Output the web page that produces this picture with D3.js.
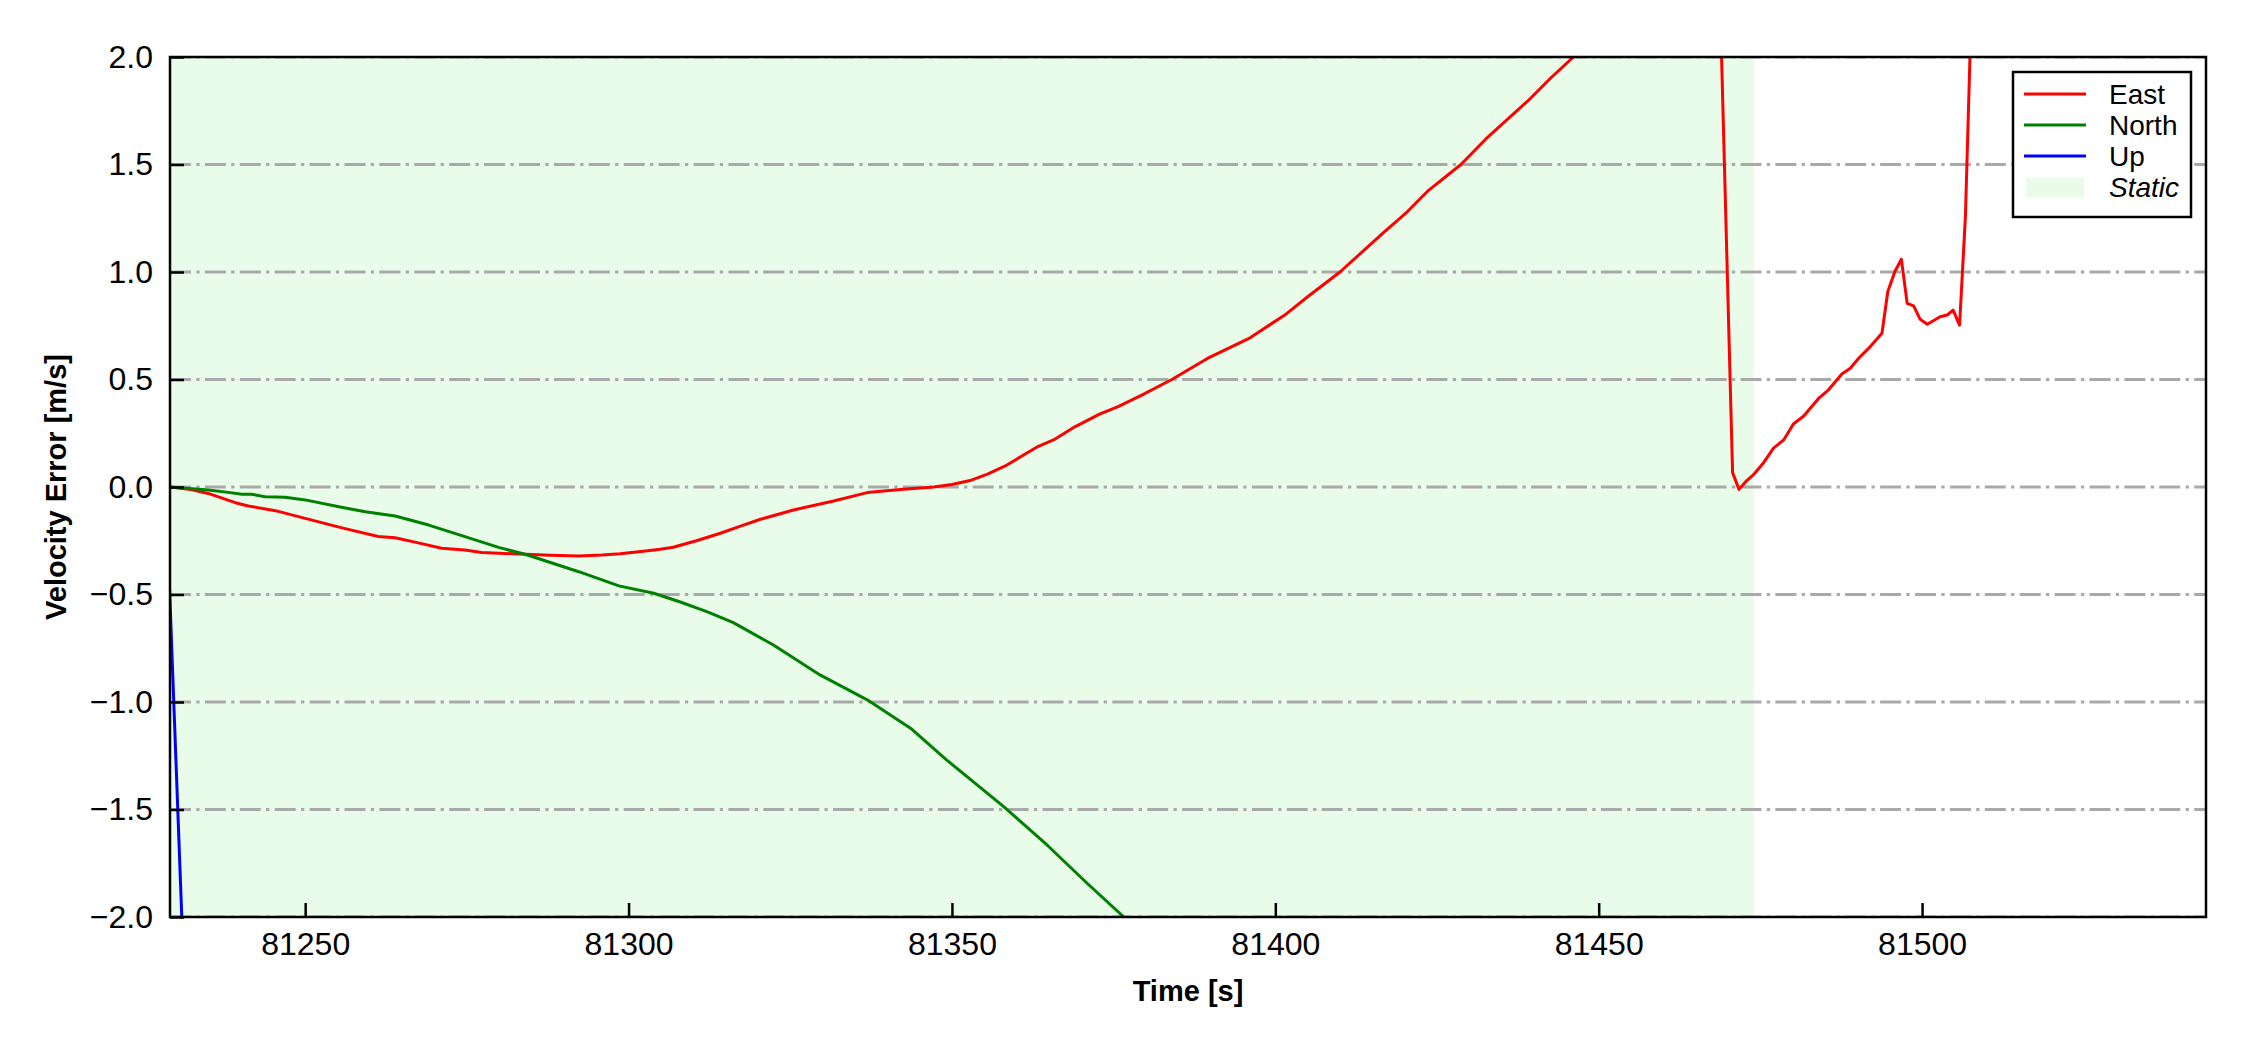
<!DOCTYPE html>
<html>
<head>
<meta charset="utf-8">
<script src="https://cdn.jsdelivr.net/npm/d3@7"></script>
<style>
  body { margin: 0; background: #fff; }
  text { font-family: "Liberation Sans", Arial, sans-serif; }
</style>
</head>
<body>
<div id="chart-container"></div>
<script>
// velocity error samples: [time s, error m/s]
const eastPoints = [
    [81229.1, 0.0], [81232, -0.01], [81235, -0.03], [81239.2, -0.073], [81241.2, -0.088],
    [81245.4, -0.11], [81250, -0.146], [81255.7, -0.19], [81261.3, -0.23], [81263.9, -0.236],
    [81267.5, -0.26], [81271.1, -0.285], [81274.7, -0.293], [81277.3, -0.305], [81284, -0.313],
    [81288, -0.318], [81292.3, -0.321], [81295.9, -0.316], [81298.7, -0.31], [81302.6, -0.298],
    [81304.9, -0.29], [81306.9, -0.28], [81310.5, -0.25], [81314.2, -0.215], [81317.3, -0.182],
    [81320.4, -0.15], [81325.5, -0.107], [81331.7, -0.065], [81336.9, -0.026], [81342.5, -0.011],
    [81347.2, 0.0], [81350, 0.012], [81352.8, 0.03], [81355.5, 0.06], [81358.5, 0.102],
    [81363.1, 0.185], [81365.7, 0.219], [81369, 0.28], [81372.9, 0.34], [81375.7, 0.374],
    [81379.5, 0.43], [81384, 0.5], [81389.5, 0.598], [81396.1, 0.694], [81401.7, 0.805],
    [81405, 0.885], [81410, 1.0], [81416.6, 1.18], [81420.4, 1.28], [81423.7, 1.38],
    [81428.7, 1.5], [81432.6, 1.62], [81439.2, 1.8], [81442.5, 1.9], [81446.1, 2.0],
    [81449, 2.17], [81455, 2.5], [81462, 2.8], [81468.7, 2.34],
    [81470.7, 0.067], [81471.7, -0.011], [81472.9, 0.03], [81473.9, 0.056], [81475.5, 0.113],
    [81477, 0.18], [81478.6, 0.219], [81480.1, 0.293], [81481.7, 0.33], [81484, 0.412],
    [81485.5, 0.451], [81487.6, 0.526], [81488.9, 0.552], [81490.2, 0.599], [81492, 0.653],
    [81493.8, 0.715], [81494.7, 0.909], [81495.8, 1.002], [81496.8, 1.059], [81497.7, 0.854],
    [81498.7, 0.842], [81499.7, 0.78], [81500.8, 0.757], [81502.8, 0.792], [81503.9, 0.8],
    [81504.8, 0.823], [81505.8, 0.753], [81506.7, 1.257], [81507.4, 1.994], [81508, 2.65]
];
const northPoints = [
    [81229.1, 0.0], [81235, -0.014], [81238.1, -0.025], [81240.2, -0.034], [81241.7, -0.034],
    [81243.8, -0.045], [81246.9, -0.048], [81250, -0.06], [81255.2, -0.092], [81259.3, -0.115],
    [81263.9, -0.135], [81269.1, -0.177], [81274.7, -0.231], [81279.9, -0.281], [81284, -0.313],
    [81292.3, -0.394], [81298.5, -0.46], [81303.9, -0.494], [81308, -0.535], [81312.1, -0.58],
    [81316.2, -0.631], [81322.4, -0.735], [81329.6, -0.874], [81336.9, -0.99], [81343.6, -1.122],
    [81349.2, -1.27], [81358, -1.487], [81364.7, -1.665], [81370.9, -1.843], [81376.5, -1.998],
    [81380, -2.14]
];
const upPoints = [
    [81229.0, -0.45], [81232.0, -2.87]
];
const staticSpan = [81229.0, 81474.0];
const xTicks = [81250, 81300, 81350, 81400, 81450, 81500];
const yTicks = [-2.0, -1.5, -1.0, -0.5, 0.0, 0.5, 1.0, 1.5, 2.0];
const xRange = [81229.1, 81543.9];
const yRange = [-2.0, 2.0];

const series = [
    { name: "East", points: eastPoints, color: "#ff0000" },
    { name: "North", points: northPoints, color: "#008000" },
    { name: "Up", points: upPoints, color: "#0000ff" }
];

const svgWidth = 2250;
const svgHeight = 1050;
const margin = { top: 57, right: 44, bottom: 133, left: 170 };
const width = svgWidth - margin.left - margin.right;
const height = svgHeight - margin.top - margin.bottom;
const staticColor = "#e9fce9";

const svg = d3.select("#chart-container")
    .append("svg")
    .attr("width", svgWidth)
    .attr("height", svgHeight);

const chart = svg.append("g")
    .attr("transform", `translate(${margin.left},${margin.top})`);

const scaleX = d3.scaleLinear().domain(xRange).range([0, width]);
const scaleY = d3.scaleLinear().domain(yRange).range([height, 0]);

chart.append("clipPath")
    .attr("id", "plot-clip")
    .append("rect")
    .attr("width", width)
    .attr("height", height);

const plot = chart.append("g").attr("clip-path", "url(#plot-clip)");

// static period shading
plot.append("rect")
    .attr("x", scaleX(staticSpan[0]))
    .attr("y", 0)
    .attr("width", scaleX(staticSpan[1]) - scaleX(staticSpan[0]))
    .attr("height", height)
    .attr("fill", staticColor);

// horizontal grid, dash-dot
plot.selectAll(".grid")
    .data(yTicks)
    .enter()
    .append("line")
    .attr("class", "grid")
    .attr("x1", 0)
    .attr("x2", width)
    .attr("y1", d => scaleY(d))
    .attr("y2", d => scaleY(d))
    .attr("stroke", "#a9a9a9")
    .attr("stroke-width", 3)
    .attr("stroke-dasharray", "21,5.3,3.3,5.3");

const line = d3.line()
    .x(d => scaleX(d[0]))
    .y(d => scaleY(d[1]));

series.forEach(s => {
    plot.append("path")
        .datum(s.points)
        .attr("fill", "none")
        .attr("stroke", s.color)
        .attr("stroke-width", 3)
        .attr("stroke-linejoin", "round")
        .attr("d", line);
});

// axes with inward ticks
const axisX = chart.append("g")
    .attr("transform", `translate(0,${height})`)
    .call(d3.axisBottom(scaleX).tickValues(xTicks).tickFormat(d3.format("d")).tickSize(-14).tickPadding(15));

const axisY = chart.append("g")
    .call(d3.axisLeft(scaleY).tickValues(yTicks).tickFormat(d3.format(".1f")).tickSize(-14).tickPadding(17));

[axisX, axisY].forEach(a => {
    a.select(".domain").remove();
    a.selectAll(".tick line").attr("stroke", "#000").attr("stroke-width", 2.5);
    a.selectAll(".tick text")
        .attr("fill", "#000")
        .attr("font-size", "32px")
        .attr("font-family", "'Liberation Sans', Arial, sans-serif");
});

chart.append("rect")
    .attr("width", width)
    .attr("height", height)
    .attr("fill", "none")
    .attr("stroke", "#000")
    .attr("stroke-width", 2.5);

chart.append("text")
    .attr("x", width / 2)
    .attr("y", height + 84)
    .attr("text-anchor", "middle")
    .attr("font-size", "29px")
    .attr("font-weight", "bold")
    .text("Time [s]");

chart.append("text")
    .attr("transform", "rotate(-90)")
    .attr("x", -height / 2)
    .attr("y", -114)
    .attr("dy", "0.35em")
    .attr("text-anchor", "middle")
    .attr("font-size", "29px")
    .attr("font-weight", "bold")
    .text("Velocity Error [m/s]");

// legend
const legend = svg.append("g").attr("transform", "translate(2013,72)");
legend.append("rect")
    .attr("width", 178)
    .attr("height", 145)
    .attr("fill", "#fff")
    .attr("stroke", "#000")
    .attr("stroke-width", 2.5);

series.forEach((s, i) => {
    legend.append("line")
        .attr("x1", 11).attr("x2", 73)
        .attr("y1", 22 + i * 31).attr("y2", 22 + i * 31)
        .attr("stroke", s.color)
        .attr("stroke-width", 3);
    legend.append("text")
        .attr("x", 96)
        .attr("y", 22 + i * 31)
        .attr("dy", "0.35em")
        .attr("font-size", "28px")
        .text(s.name);
});

legend.append("rect")
    .attr("x", 13).attr("y", 106)
    .attr("width", 58).attr("height", 19)
    .attr("fill", staticColor);
legend.append("text")
    .attr("x", 96)
    .attr("y", 115)
    .attr("dy", "0.35em")
    .attr("font-size", "28px")
    .attr("font-style", "italic")
    .attr("font-family", "'Liberation Serif', 'Times New Roman', serif")
    .text("Static");
</script>
</body>
</html>
